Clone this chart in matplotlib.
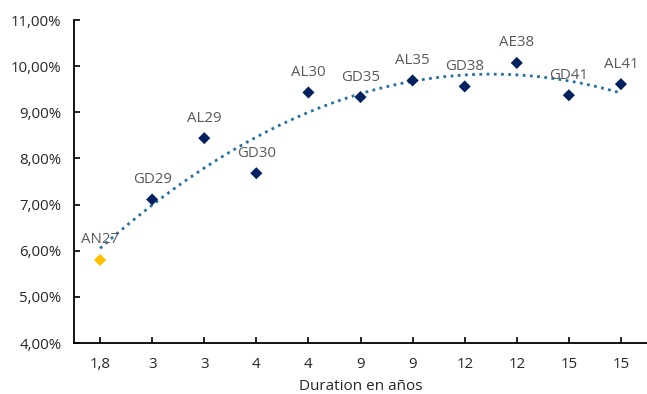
import matplotlib
matplotlib.use("Agg")
import matplotlib.pyplot as plt
import numpy as np
from matplotlib.ticker import FuncFormatter

plt.rcParams['font.family'] = ['Open Sans', 'DejaVu Sans']

tick_labels = ["1,8", "3", "3", "4", "4", "9", "9", "12", "12", "15", "15"]
names = ["AN27", "GD29", "AL29", "GD30", "AL30", "GD35", "AL35", "GD38", "AE38", "GD41", "AL41"]
yields = [5.80, 7.11, 8.44, 7.68, 9.43, 9.33, 9.69, 9.56, 10.07, 9.37, 9.61]
colors = ["#FFC000"] + ["#002060"] * 10

fig = plt.figure(figsize=(6.47, 3.94), dpi=100)
ax = fig.add_axes([0.1144, 0.1294, 0.8856, 0.8198])

x = np.arange(len(names))
y = np.array(yields)

# polynomial (order 2) trendline like Excel
coef = np.polyfit(x + 1, y, 2)
xt = np.linspace(0, len(names) - 1, 200)
ax.plot(xt, np.polyval(coef, xt + 1), linestyle=(0, (1, 1.6)), color="#2472A4", lw=2.0, zorder=2)

ax.scatter(x, y, marker="D", s=38, c=colors, zorder=3, linewidths=0)

for xi, yi, n in zip(x, y, names):
    ax.annotate(n, (xi, yi), xytext=(0, 9), textcoords="offset points",
                ha="center", va="bottom", fontsize=10.8, color="#595959", zorder=4)

ax.set_xlim(-0.5, len(names) - 0.5)
ax.set_ylim(4, 11)
ax.set_yticks(np.arange(4, 11.01, 1))
ax.yaxis.set_major_formatter(FuncFormatter(lambda v, p: f"{v:.2f}%".replace(".", ",")))
ax.set_xticks(x)
ax.set_xticklabels(tick_labels)

for s in ["top", "right"]:
    ax.spines[s].set_visible(False)
for s in ["left", "bottom"]:
    ax.spines[s].set_linewidth(1.3)
    ax.spines[s].set_color("black")

ax.tick_params(axis="both", direction="in", length=4, width=1.2, labelsize=10.8, colors="black",
               labelcolor="#262626")
ax.tick_params(axis="x", pad=10)
ax.tick_params(axis="y", pad=9)
ax.set_xlabel("Duration en años", fontsize=11, color="#262626", labelpad=5)

fig.savefig("out.png", dpi=100)
